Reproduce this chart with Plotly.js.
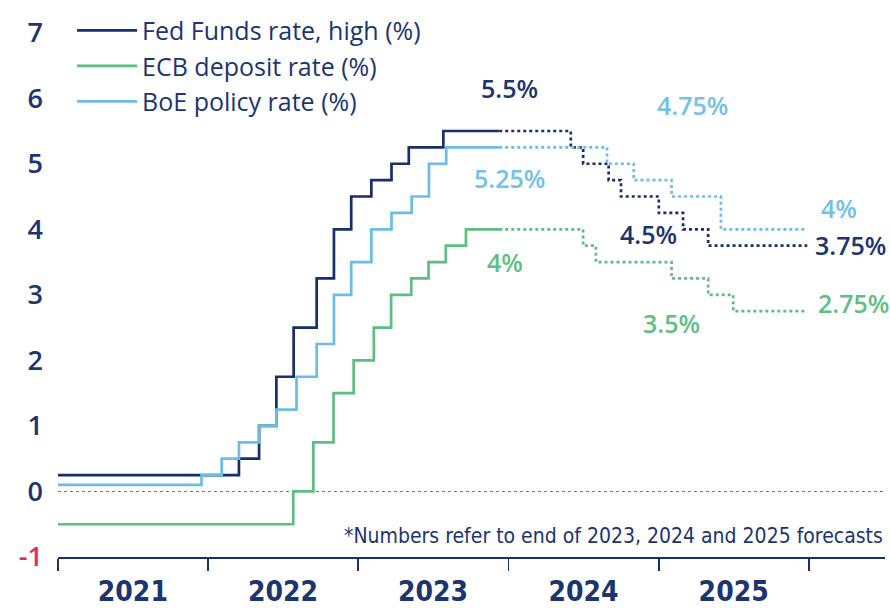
<!DOCTYPE html>
<html>
<head>
<meta charset="utf-8">
<script src="https://cdn.plot.ly/plotly-3.0.1.min.js"></script>
<style>
html,body{margin:0;padding:0;background:#fff;}
#chart{width:890px;height:608px;}
</style>
</head>
<body>
<div id="chart"></div>
<script>
// ---- Data ----
const fedDates   = ['2021-01-01','2022-03-17','2022-05-05','2022-06-16','2022-07-28','2022-09-22','2022-11-03','2022-12-15','2023-02-02','2023-03-23','2023-05-04','2023-07-27','2023-12-10'];
const fedValues  = [0.25,0.5,1.0,1.75,2.5,3.25,4.0,4.5,4.75,5.0,5.25,5.5,5.5];

const ecbDates   = ['2021-01-01','2022-07-27','2022-09-14','2022-11-02','2022-12-21','2023-02-08','2023-03-22','2023-05-10','2023-06-21','2023-08-02','2023-09-20','2023-12-10'];
const ecbValues  = [-0.5,0,0.75,1.5,2.0,2.5,3.0,3.25,3.5,3.75,4.0,4.0];

const boeDates   = ['2021-01-01','2021-12-16','2022-02-03','2022-03-17','2022-05-05','2022-06-16','2022-08-04','2022-09-22','2022-11-03','2022-12-15','2023-02-02','2023-03-23','2023-05-11','2023-06-22','2023-08-03','2023-12-10'];
const boeValues  = [0.1,0.25,0.5,0.75,1.0,1.25,1.75,2.25,3.0,3.5,4.0,4.25,4.5,5.0,5.25,5.25];

const fedFcDates  = ['2023-12-10','2024-06-01','2024-07-01','2024-09-01','2024-10-01','2025-01-01','2025-03-01','2025-05-01','2025-12-28'];
const fedFcValues = [5.5,5.25,5.0,4.75,4.5,4.25,4.0,3.75,3.75];

const ecbFcDates  = ['2023-12-10','2024-07-01','2024-08-01','2025-02-01','2025-05-01','2025-07-01','2025-12-28'];
const ecbFcValues = [4.0,3.75,3.5,3.25,3.0,2.75,2.75];

const boeFcDates  = ['2023-12-10','2024-08-28','2024-11-01','2025-02-01','2025-06-01','2025-12-28'];
const boeFcValues = [5.25,5.0,4.75,4.5,4.0,4.0];

const seriesNames = ['Fed Funds rate, high (%)','ECB deposit rate (%)','BoE policy rate (%)'];
const yearLabels  = ['2021','2022','2023','2024','2025'];
const yearMids    = ['2021-07-02','2022-07-02','2023-07-02','2024-07-02','2025-07-02'];
const yTickVals   = [-1,0,1,2,3,4,5,6,7];

// end-point labels: [x, y, text, series]
const endLabels = [
  ['2024-01-04', 6.15, '5.5%', 0],
  ['2024-01-05', 4.78, '5.25%', 2],
  ['2023-12-25', 3.5, '4%', 1],
  ['2025-03-25', 5.9, '4.75%', 2],
  ['2026-03-15', 4.33, '4%', 2],
  ['2024-12-08', 3.93, '4.5%', 0],
  ['2026-04-12', 3.76, '3.75%', 0],
  ['2025-02-01', 2.57, '3.5%', 1],
  ['2026-04-20', 2.87, '2.75%', 1]
];

// ---- Style ----
const NAVY = '#17306a';
const TEXT = '#1c3470';
const GREEN = '#5cbf80';
const LIGHT = '#6cbde4';
const colors = [NAVY, GREEN, LIGHT];
const labelColors = [TEXT, '#5fbf84', '#74c1e6'];
const FONT = '"Open Sans", "Noto Sans", sans-serif';
const NARROW = '"Liberation Sans Narrow", "DejaVu Sans Condensed", sans-serif';

const hist = [[fedDates,fedValues],[ecbDates,ecbValues],[boeDates,boeValues]];
const fc = [[fedFcDates,fedFcValues],[ecbFcDates,ecbFcValues],[boeFcDates,boeFcValues]];

const traces = [];
hist.forEach((d,i)=>{
  traces.push({x:d[0], y:d[1], type:'scatter', mode:'lines', name:seriesNames[i],
    line:{color:colors[i], width:2.7, shape:'hv'}, legendgroup:'g'+i, hoverinfo:'skip'});
});
fc.forEach((d,i)=>{
  traces.push({x:d[0], y:d[1], type:'scatter', mode:'lines', showlegend:false,
    line:{color:colors[i], width:2.7, shape:'hv', dash:'3px,3px'}, hoverinfo:'skip'});
});

const annotations = endLabels.map(l=>({
  x:l[0], y:l[1], xref:'x', yref:'y', text:l[2], showarrow:false,
  font:{family:FONT, size:25, color:labelColors[l[3]], weight:600},
  xanchor:'center', yanchor:'middle'
}));
annotations.push({
  x:1, y:-0.68, xref:'paper', yref:'y', xanchor:'right', yanchor:'middle',
  text:'*Numbers refer to end of 2023, 2024 and 2025 forecasts', showarrow:false,
  font:{family:NARROW, size:21, color:TEXT}
});

const yTickText = yTickVals.map(v => v === -1 ? '<span style="color:#e0305a">-1</span>' : String(v));

const layout = {
  width:890, height:608,
  margin:{l:58, r:5, t:13, b:51},
  paper_bgcolor:'#fff', plot_bgcolor:'#fff',
  showlegend:true,
  legend:{x:0.017, y:1.01, xanchor:'left', yanchor:'top', bgcolor:'rgba(0,0,0,0)',
    font:{family:FONT, size:25, color:TEXT}, itemwidth:60, tracegroupgap:0, traceorder:'grouped'},
  xaxis:{type:'date', range:['2021-01-01','2026-07-05'], showgrid:false, zeroline:false,
    showline:true, linecolor:NAVY, linewidth:1.6,
    tickmode:'array', tickvals:yearMids, ticktext:yearLabels, ticks:'', ticklabelstandoff:9,
    tickfont:{family:NARROW, size:28, color:TEXT, weight:'bold'},
    minor:{ticks:'outside', ticklen:12, tickwidth:1.6, tickcolor:NAVY, dtick:'M12', tick0:'2021-01-01', showgrid:false}
  },
  yaxis:{range:[-1,7.3], showgrid:false, zeroline:false, showline:false,
    tickmode:'array', tickvals:yTickVals, ticktext:yTickText, ticks:'', ticklabelstandoff:14,
    tickfont:{family:FONT, size:27, color:TEXT, weight:600}
  },
  shapes:[{type:'line', xref:'paper', yref:'y', x0:0, x1:1, y0:0, y1:0,
    line:{color:'#4f7a88', width:1, dash:'dot'}, layer:'below'}],
  annotations:annotations
};

Plotly.newPlot('chart', traces, layout, {staticPlot:true, displayModeBar:false});
</script>
</body>
</html>
